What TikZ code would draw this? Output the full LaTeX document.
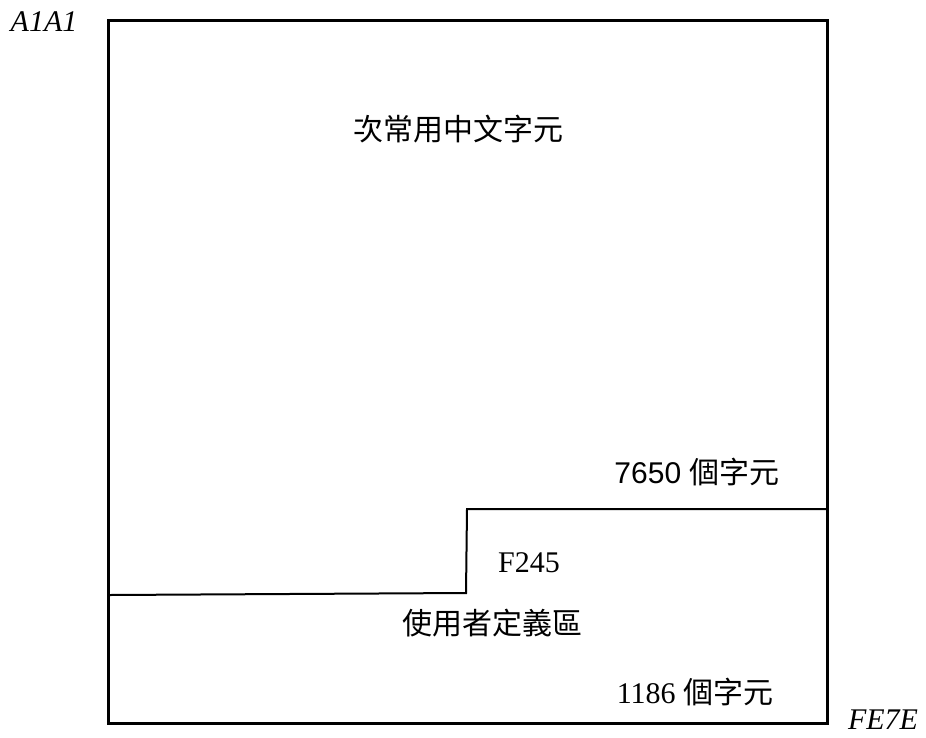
\documentclass[tikz,border=0pt]{standalone}
\usepackage{fontspec}
\setmainfont{Liberation Serif}
\newfontfamily\cjk{Noto Sans CJK TC}
\newfontfamily\arialf{Liberation Sans}
\begin{document}
\begin{tikzpicture}[x=1pt,y=-1pt,
  lbl/.style={inner sep=0pt,anchor=center,font=\fontsize{30}{34}\selectfont},
  frame/.style={line width=3pt},
  stepline/.style={line width=2pt}]
\useasboundingbox (0,0) rectangle (926,737);
\coordinate (tl) at (108,20);
\coordinate (br) at (827,723);
\draw[frame] (tl) rectangle (br);
\coordinate (s1) at (109.5,595);
\coordinate (s2) at (466,593);
\coordinate (s3) at (467,509);
\coordinate (s4) at (826,509);
\draw[stepline] (s1) -- (s2) -- (s3) -- (s4);
\node[lbl,font=\fontsize{30}{34}\selectfont\itshape] (a1a1) at (44,22) {A1A1};
\node[lbl,font=\fontsize{30}{34}\selectfont\itshape] (fe7e) at (883,720) {FE7E};
\node[lbl] (top) at (458,129) {\cjk 次常用中文字元};
\node[lbl] (n7650) at (697,472) {\arialf 7650 \cjk 個字元};
\node[lbl] (f245) at (529,563) {F245};
\node[lbl] (user) at (492,623) {\cjk 使用者定義區};
\node[lbl] (n1186) at (695,692) {1186 \cjk 個字元};
\end{tikzpicture}
\end{document}
